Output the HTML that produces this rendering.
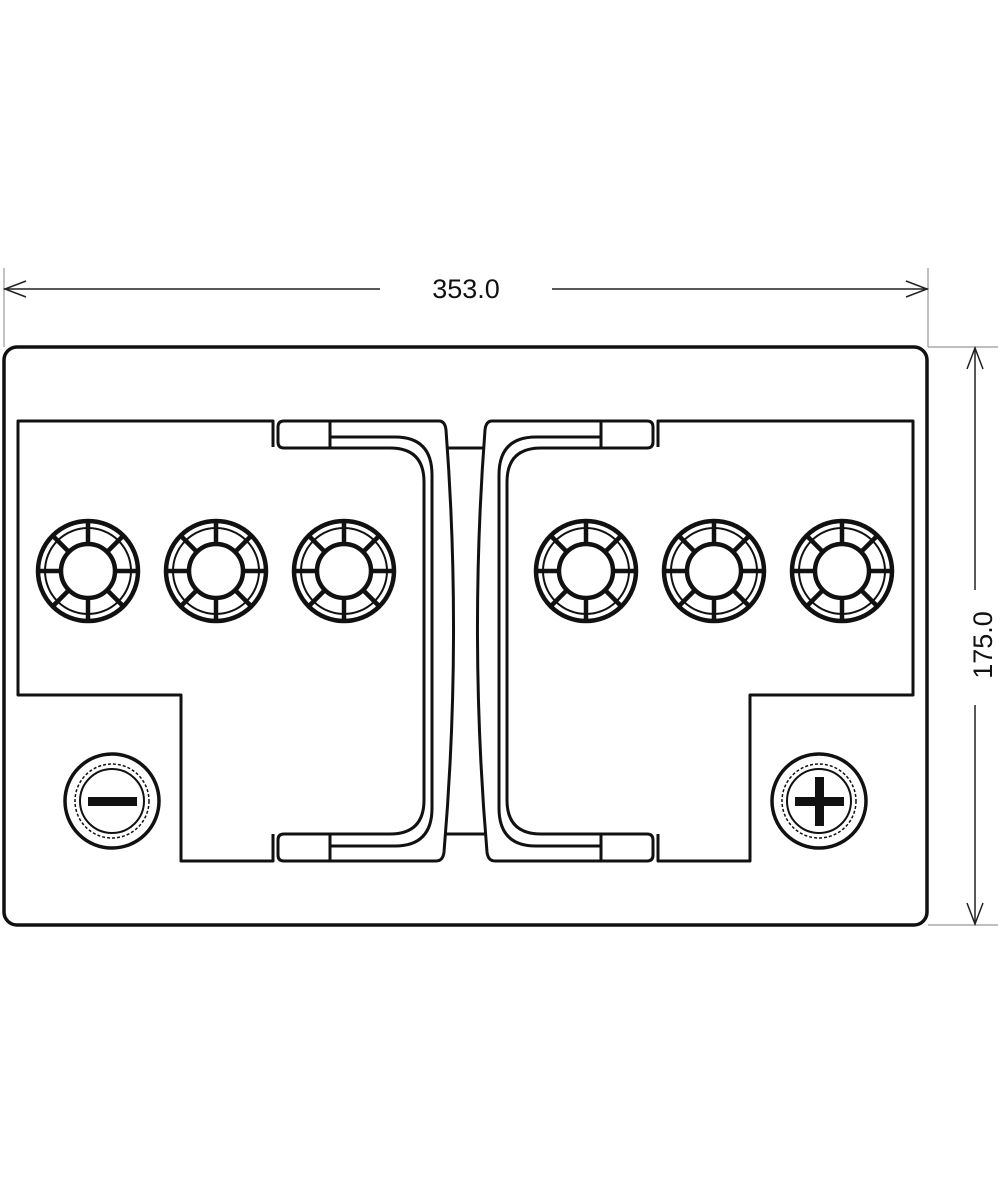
<!DOCTYPE html>
<html><head><style>html,body{margin:0;padding:0;background:#fff}svg{display:block}</style></head>
<body>
<svg width="1000" height="1200" viewBox="0 0 1000 1200" xmlns="http://www.w3.org/2000/svg">
<defs>
<g id="cap">
  <circle r="50" fill="none" stroke="#111" stroke-width="4.5"/>
  <circle r="43" fill="none" stroke="#111" stroke-width="2"/>
  <circle r="27" fill="none" stroke="#111" stroke-width="4.5"/>
  <g stroke="#111" stroke-width="4.5">
    <line x1="27" y1="0" x2="50" y2="0"/><line x1="-27" y1="0" x2="-50" y2="0"/>
    <line x1="0" y1="27" x2="0" y2="50"/><line x1="0" y1="-27" x2="0" y2="-50"/>
    <line x1="19" y1="19" x2="35" y2="35"/><line x1="-19" y1="19" x2="-35" y2="35"/>
    <line x1="19" y1="-19" x2="35" y2="-35"/><line x1="-19" y1="-19" x2="-35" y2="-35"/>
  </g>
</g>
<g id="half" fill="none" stroke="#111" stroke-width="3" stroke-linejoin="round">
  <path d="M273,447 V421 H18 V695 H181 V861 H273 V834"/>
  <path d="M284,421 H439 Q445,421 446,430 Q462,640 444,852 Q443,861 436,861 H284 Q278,861 278,855 V840 Q278,834 284,834 H390 Q424,834 424,800 V482 Q424,448 390,448 H284 Q278,448 278,442 V427 Q278,421 284,421 Z"/>
  <path d="M330,437 H395 Q432,437 432,475 V808 Q432,846 395,846 H330"/>
  <path d="M330,421 V448 M330,834 V861"/>
  <path d="M446,448 H466 M446,834 H466"/>
</g>
</defs>
<g stroke="#999" stroke-width="1.2" fill="none">
  <line x1="4" y1="268" x2="4" y2="347"/>
  <line x1="928" y1="268" x2="928" y2="347"/>
  <line x1="928" y1="347" x2="998" y2="347"/>
  <line x1="928" y1="925" x2="998" y2="925"/>
</g>
<g stroke="#222" stroke-width="1.5" fill="none">
  <line x1="4" y1="289" x2="380" y2="289"/>
  <line x1="552" y1="289" x2="928" y2="289"/>
  <polyline points="26,281 5,289 26,297"/>
  <polyline points="906,281 927,289 906,297"/>
  <line x1="975" y1="348" x2="975" y2="590"/>
  <line x1="975" y1="705" x2="975" y2="924"/>
  <polyline points="967,369 975,348 983,369"/>
  <polyline points="967,903 975,924 983,903"/>
</g>
<text x="466" y="298" font-family="Liberation Sans, sans-serif" font-size="27" text-anchor="middle" fill="#111">353.0</text>
<text transform="translate(992,645) rotate(-90)" font-family="Liberation Sans, sans-serif" font-size="27" text-anchor="middle" fill="#111">175.0</text>
<rect x="4" y="347" width="923" height="578" rx="13" fill="none" stroke="#111" stroke-width="3.5"/>
<use href="#half"/>
<use href="#half" transform="translate(931,0) scale(-1,1)"/>
<use href="#cap" x="88" y="571"/>
<use href="#cap" x="216" y="571"/>
<use href="#cap" x="344" y="571"/>
<use href="#cap" x="586" y="571"/>
<use href="#cap" x="714" y="571"/>
<use href="#cap" x="842" y="571"/>
<g fill="none" stroke="#111">
  <circle cx="112" cy="801" r="47" stroke-width="3.5"/>
  <circle cx="112" cy="801" r="37" stroke-width="1.5" stroke-dasharray="3 2"/>
  <circle cx="112" cy="801" r="32" stroke-width="2"/>
  <circle cx="819" cy="801" r="47" stroke-width="3.5"/>
  <circle cx="819" cy="801" r="37" stroke-width="1.5" stroke-dasharray="3 2"/>
  <circle cx="819" cy="801" r="32" stroke-width="2"/>
</g>
<rect x="88" y="797" width="49" height="9" fill="#111"/>
<rect x="795" y="797" width="49" height="9" fill="#111"/>
<rect x="815" y="777" width="9" height="49" fill="#111"/>
</svg>
</body></html>
